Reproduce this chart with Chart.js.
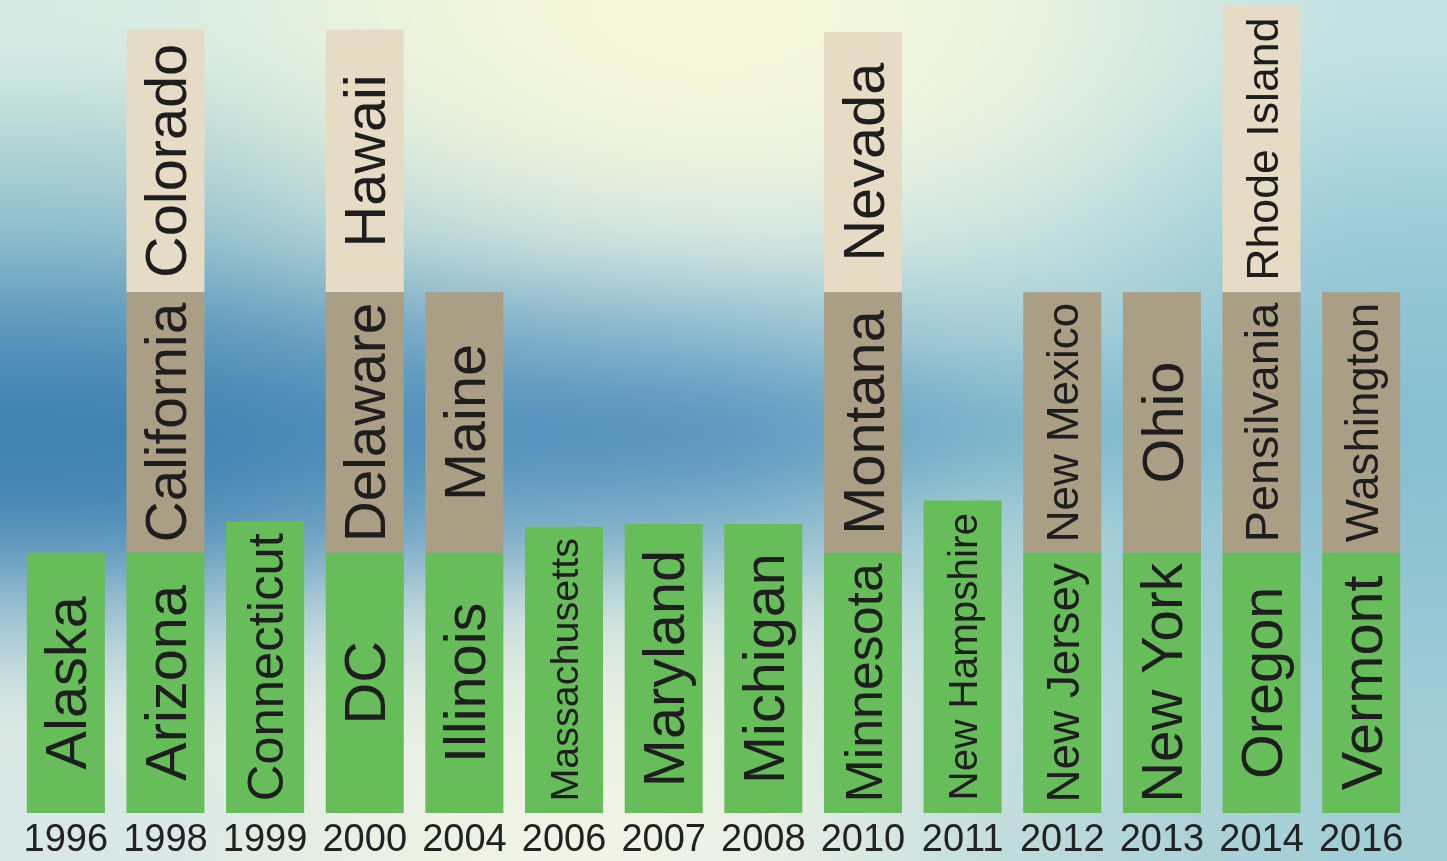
<!DOCTYPE html>
<html>
<head>
<meta charset="utf-8">
<script src="https://cdn.jsdelivr.net/npm/chart.js@4"></script>
<style>
  html, body { margin: 0; padding: 0; background: #cfe3e0; }
  #wrap { width: 1447px; height: 861px; position: relative; overflow: hidden; }
  canvas { display: block; }
</style>
</head>
<body>
<div id="wrap"><canvas id="c" width="1447" height="861"></canvas></div>
<script>
// ---- data ----
const years = ['1996','1998','1999','2000','2004','2006','2007','2008','2010','2011','2012','2013','2014','2016'];

const level1Names  = ['Alaska','Arizona','Connecticut','DC','Illinois','Massachusetts','Maryland','Michigan','Minnesota','New Hampshire','New Jersey','New York','Oregon','Vermont'];
const level1Values = [1.0, 1.0, 1.12, 1.0, 1.0, 1.10, 1.11, 1.11, 1.0, 1.20, 1.0, 1.0, 1.0, 1.0];

const level2Names  = [null,'California',null,'Delaware','Maine',null,null,null,'Montana',null,'New Mexico','Ohio','Pensilvania','Washington'];
const level2Values = [0, 1.0, 0, 1.0, 1.0, 0, 0, 0, 1.0, 0, 1.0, 1.0, 1.0, 1.0];

const level3Names  = [null,'Colorado',null,'Hawaii',null,null,null,null,'Nevada',null,null,null,'Rhode Island',null];
const level3Values = [0, 1.01, 0, 1.01, 0, 0, 0, 0, 1.0, 0, 0, 0, 1.10, 0];

// ---- styling ----
const FONT = '"Liberation Sans", Arial, sans-serif';
const TEXT = '#1e1e1e';

// blurred photographic background, sampled colours upscaled smoothly
const bgGrid = [
  ['#d6ebe3','#eef4dc','#f7f9dc','#eaf3df','#c4e2e2'],
  ['#b5d6d6','#e2eddc','#f0f4dd','#e2eee0','#b0d8dd'],
  ['#8cbccc','#bcd8d8','#d4e6df','#c8e2df','#9ccbd6'],
  ['#5a95bb','#78aac6','#8cbad0','#a5cdd6','#90c4d2'],
  ['#3f82b0','#5290ba','#5a95c0','#7cb5ca','#86bfd0'],
  ['#5590ba','#76a8c6','#84b4cc','#a8cfd6','#8fc3d2'],
  ['#a6c8d5','#c6dcdc','#d4e4e0','#b8d8da','#98c8d4'],
  ['#dbe8e3','#e6eee2','#e8efe2','#c4dedd','#a2cdd6'],
  ['#d8e8e6','#eef2e4','#eef2e6','#c0dcdc','#a4ced6']
];

const bgPlugin = {
  id: 'bg',
  beforeDraw(chart) {
    const {ctx, width, height} = chart;
    const rows = bgGrid.length, cols = bgGrid[0].length;
    const off = document.createElement('canvas');
    off.width = cols; off.height = rows;
    const octx = off.getContext('2d');
    for (let r = 0; r < rows; r++) for (let c = 0; c < cols; c++) {
      octx.fillStyle = bgGrid[r][c];
      octx.fillRect(c, r, 1, 1);
    }
    ctx.save();
    ctx.imageSmoothingEnabled = true;
    ctx.imageSmoothingQuality = 'high';
    ctx.drawImage(off, 0, 0, cols, rows, 0, 0, width, height);
    ctx.restore();
  }
};

const namesByDataset = [level1Names, level2Names, level3Names];

const labelPlugin = {
  id: 'barLabels',
  afterDatasetsDraw(chart) {
    const ctx = chart.ctx;
    chart.data.datasets.forEach((ds, di) => {
      const meta = chart.getDatasetMeta(di);
      const names = namesByDataset[di];
      meta.data.forEach((bar, i) => {
        const name = names[i];
        if (!name) return;
        const p = bar.getProps(['x','y','base','width'], true);
        const segLen = Math.abs(p.base - p.y);
        ctx.save();
        ctx.font = '100px ' + FONT;
        const em = ctx.measureText(name).width / 100;
        const size = Math.min(0.74 * p.width, 0.92 * segLen / em);
        ctx.font = size.toFixed(1) + 'px ' + FONT;
        ctx.fillStyle = TEXT;
        ctx.textAlign = 'center';
        ctx.textBaseline = 'alphabetic';
        ctx.translate(p.x, (p.y + p.base) / 2);
        ctx.rotate(-Math.PI / 2);
        ctx.fillText(name, 0, size * 0.358);
        ctx.restore();
      });
    });
  }
};

new Chart(document.getElementById('c'), {
  type: 'bar',
  data: {
    labels: years,
    datasets: [
      { label: 'Level 1', data: level1Values, backgroundColor: '#66bd5a', borderWidth: 0 },
      { label: 'Level 2', data: level2Values, backgroundColor: '#aa9e85', borderWidth: 0 },
      { label: 'Level 3', data: level3Values, backgroundColor: '#e6dcc6', borderWidth: 0 }
    ]
  },
  options: {
    responsive: false,
    animation: false,
    devicePixelRatio: 1,
    layout: { padding: { left: 16, right: 36, top: 0, bottom: -8 } },
    datasets: { bar: { barPercentage: 1, categoryPercentage: 0.783 } },
    plugins: { legend: { display: false }, tooltip: { enabled: false } },
    scales: {
      x: {
        stacked: true,
        grid: { display: false, drawTicks: false, tickLength: 0 },
        border: { display: false },
        ticks: { color: '#222', font: { family: FONT, size: 38, lineHeight: 1.0 }, maxRotation: 0, autoSkip: false, padding: 9 }
      },
      y: { stacked: true, display: false, min: 0, max: 3.123 }
    }
  },
  plugins: [bgPlugin, labelPlugin]
});
</script>
</body>
</html>
